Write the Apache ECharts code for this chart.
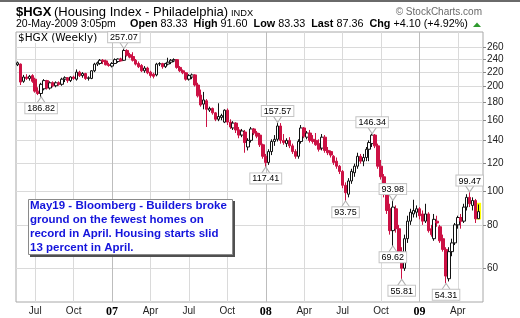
<!DOCTYPE html>
<html><head><meta charset="utf-8">
<script src="https://cdn.jsdelivr.net/npm/echarts@6/dist/echarts.min.js"></script>
<style>html,body{margin:0;padding:0;background:#fff}#c{width:520px;height:318px}</style>
</head><body><div id="c"></div>
<script>
// ---- data ----
const firstWeek = '2006-05-22';   // Monday of first weekly bar
const extraWeeks = 1;             // empty slot after last bar
const opens = [
231,232,207,213,211,215,210,194,191,197,
208,198,205,201,205,203,210,212,208,213,
210,220,215,218,211,211,222,232,233,238,
237,231,229,233,236,240,238,254,247,244,
238,233,230,222,226,220,217,216,232,233,
228,232,235,237,239,227,222,219,210,213,
216,202,189,178,182,171,173,168,161,163,
158,171,158,152,157,150,145,148,134,140,
151,147,145,136,126,121,130,139,141,154,
140,137,140,135,130,126,139,152,143,147,
141,140,137,133,143,131,130,126,122,118,
114,104,98,107,113,118,126,122,125,132,
137,145,135,118,110,98,89,77,89,78,
67,60,73,82,86,87,89,86,82,86,
78,73,82,79,73,68,56,67,71,80,
84,82,90,96,91,94,83.33];
const highs = [
236,233,216,217,216,217,212,199,205,210,
209,207,207,207,207,212,214,213,214,215,
224,222,220,219,214,223,234,236,240,240,
239,234,235,241,241,242,257.07,256,250,251,
240,236,232,229,228,222,219,234,235,234,
234,242,240,241,240,229,224,220,217,218,
217,205,196,193,184,175,174,169,179,167,
172,173,161,159,158,153,151,150,142,153,
152,149,147,137,128,132,141,145,157.57,157,
146,142,143,137,132,141,155,153,149,150,
145,147,141,146,145,134,131,127,125,119,
115,106,109,116,120,129,128,128,134,140,
146.34,146,137,123,112,99,92,93.98,91,80,
69,75,85,89,94.5,91,90,88,92,87,
80,86,85,80,75,69,69,73,81,85,
86,92,98,99.47,96,95,91.60];
const lows = [
229,202,205,209,208,205,192,189,186.82,195,
196,196,199,199,201,201,206,205,206,209,
208,213,212,209,208,210,220,229,231,232,
230,228,227,232,234,236,237,244,241,236,
230,226,220,219,217,212,211,214,229,225,
226,230,232,235,225,220,217,208,208,210,
200,186,175,172,153,169,166,159,159,160,
157,155,151,150,147,142,143,129,131,138,
145,142,134,124,117.41,119,127,135,139,137,
136,134,133,128,124,124,137,142,141,138,
137,135,130,131,129,127,125,119,116,112,
102,93.75,96,105,110,116,120,118,122,122,
134,133,116,108,96,86,75,69.62,76,65,
55.81,59,71,80,84,84,83,80,81,76,
74,72,79,71,67,54.31,55,65,70,78,
78,81,88,90,88,81,83.33];
const closes = [
234,206,213,211,214,207,194,191,203,208,
198,205,201,205,203,210,212,208,213,211,
220,215,218,211,212,222,232,234,238,236,
231,230,233,239,240,237,254,246,243,238,
232,228,222,226,219,215,214,232,233,228,
233,235,238,239,227,222,219,210,215,216,
202,188,177,183,172,173,168,161,164,165,
171,158,153,157,150,145,149,138,140,151,
147,144,136,126,121,130,139,141,154,140,
138,140,135,130,126,139,152,144,147,140,
139,136,132,143,131,129,127,121,118,114,
104,99,107,114,118,126,122,125,132,138,
145,135,118,110,98,88,77,90,78,67,
60,73,82,87,88,89,85,82,86,77,
75,83,81,72,68,57,67,71,80,84,
82,90,96,92,94,83.26,87.36];
const yTicks = [60,80,100,120,140,160,180,200,220,240,260];
const highMarkIdx = [36,88,120,127,153];
const highMarkVal = [257.07,157.57,146.34,93.98,99.47];
const lowMarkIdx = [8,84,111,127,130,145];
const lowMarkVal = [186.82,117.41,93.75,69.62,55.81,54.31];
const monthNames = ['Jan','Feb','Mar','Apr','May','Jun','Jul','Aug','Sep','Oct','Nov','Dec'];
const noteLines = ['May19 - Bloomberg - Builders broke','ground on the fewest homes on','record in April. Housing starts slid','13 percent in April.'];
const quoteLine = '{b|Open} 83.33  {b|High} 91.60  {b|Low} 83.33  {b|Last} 87.36  {b|Chg} +4.10 (+4.92%)';

// ---- categories (weekly) ----
const DAY = 86400000;
const t0 = Date.parse(firstWeek + 'T00:00:00Z');
const nCat = opens.length + extraWeeks;
const weeks = [];
for (let i = 0; i < nCat; i++) weeks.push(new Date(t0 + i * 7 * DAY).toISOString().slice(0, 10));
function friday(i) { return new Date(t0 + (i * 7 + 4) * DAY); }
const qStart = {};
for (let i = 1; i < nCat; i++) {
  const f = friday(i), p = friday(i - 1);
  if (f.getUTCMonth() !== p.getUTCMonth() && f.getUTCMonth() % 3 === 0) qStart[i] = f;
}
const isQ = (idx) => !!qStart[idx];

const chart = echarts.init(document.getElementById('c'), null, {renderer: 'canvas'});
const RED = '#cc1144';
const candleData = opens.map((o, i) => [o, closes[i], lows[i], highs[i]]);
const lastIdx = opens.length - 1;

const labelStyle = {
  show: true, formatter: (p) => Number(p.value).toFixed(2),
  fontFamily: 'Liberation Sans', fontSize: 9, color: '#000',
  backgroundColor: '#fff', borderColor: '#c4c4c4', borderWidth: 1,
  padding: [1, 2, 0, 2], distance: 0
};
const markData = [];
highMarkIdx.forEach((ix, k) => markData.push({
  coord: [weeks[ix], highMarkVal[k]], value: highMarkVal[k],
  symbol: 'path://M0,0L4,6L8,0', symbolSize: [8, 6], symbolOffset: [0, -3],
  itemStyle: {color: 'rgba(0,0,0,0)', borderColor: '#b0b0b0', borderWidth: 1},
  label: Object.assign({}, labelStyle, {position: 'top'})
}));
lowMarkIdx.forEach((ix, k) => markData.push({
  coord: [weeks[ix], lowMarkVal[k]], value: lowMarkVal[k],
  symbol: 'path://M0,6L4,0L8,6', symbolSize: [8, 6], symbolOffset: [0, 3],
  itemStyle: {color: 'rgba(0,0,0,0)', borderColor: '#b0b0b0', borderWidth: 1},
  label: Object.assign({}, labelStyle, {position: 'bottom'})
}));

const F = 'Liberation Sans';
const txt = (x, y, text, font, fill, align) => ({
  type: 'text', x: 0, y: 0, silent: true,
  style: {x: x, y: y, text: text, font: font, fill: fill || '#000',
    textAlign: align || 'left', align: align || 'left', textVerticalAlign: 'middle', verticalAlign: 'middle'}
});

const graphics = [
  {type: 'rect', shape: {x: 0, y: 0, width: 520, height: 2}, style: {fill: '#6a6a6a'}, silent: true},
  txt(16, 12.5, '$HGX', 'bold 13px ' + F),
  txt(54, 12.5, '(Housing Index - Philadelphia)', '13px ' + F),
  txt(231, 13, 'INDX', '9.3px ' + F),
  txt(482, 12.5, '\u00A9 StockCharts.com', '10px ' + F, '#6a6a6a', 'right'),
  txt(16, 24.5, '20-May-2009 3:05pm', '10.5px ' + F),
  {type: 'text', x: 0, y: 0, silent: true,
    style: {x: 130, y: 24.5, text: quoteLine, fontFamily: F, fontSize: 10.8, fill: '#000',
      align: 'left', textAlign: 'left', verticalAlign: 'middle', textVerticalAlign: 'middle',
      rich: {b: {fontFamily: F, fontSize: 10.8, fontWeight: 'bold', fill: '#000'}}}},
  {type: 'polygon', shape: {points: [[473, 27], [477, 22.5], [481, 27]]}, style: {fill: '#2e9a2e'}, silent: true},
  {type: 'rect', shape: {x: 17, y: 33, width: 88, height: 10}, style: {fill: '#fff'}, silent: true, z: 50},
  Object.assign(txt(18, 38, '$HGX (Weekly)', '10.5px DejaVu Sans'), {z: 51}),
  {type: 'rect', shape: {x: 30, y: 201, width: 205, height: 56}, style: {fill: '#505050'}, silent: true, z: 50},
  {type: 'rect', shape: {x: 28.5, y: 199.5, width: 204, height: 55}, style: {fill: '#fff', stroke: '#8a8a8a', lineWidth: 1}, silent: true, z: 51}
];
noteLines.forEach((s, k) => graphics.push(Object.assign(txt(30, 206 + k * 14, s, 'bold 11.5px ' + F, '#1414dc'), {z: 52})));

chart.setOption({
  animation: false,
  backgroundColor: '#fff',
  grid: {left: 16, top: 32, width: 467, height: 270, show: true, borderColor: '#a8a8a8', borderWidth: 1, backgroundColor: '#fff'},
  xAxis: {
    type: 'category', data: weeks, boundaryGap: true,
    axisLine: {show: false},
    axisTick: {show: false, alignWithLabel: true, interval: isQ},
    axisLabel: {
      interval: isQ, margin: 4, fontFamily: F, fontSize: 10, color: '#222',
      formatter: (v, idx) => {
        const f = qStart[idx]; if (!f) return '';
        const m = f.getUTCMonth();
        return m === 0 ? '{yr|' + String(f.getUTCFullYear()).slice(2) + '}' : monthNames[m];
      },
      rich: {yr: {fontFamily: 'Liberation Serif', fontWeight: 'bold', fontSize: 12, color: '#000'}}
    },
    splitLine: {show: true, interval: isQ, alignWithLabel: true,
      lineStyle: {color: ['#dadada', '#dadada', '#bdbdbd', '#dadada'], width: 1}}
  },
  yAxis: {
    type: 'log', logBase: 10, position: 'right', min: 48, max: 287,
    axisLine: {show: false},
    axisTick: {show: true, length: 3, customValues: yTicks, lineStyle: {color: '#888'}},
    axisLabel: {customValues: yTicks, margin: 4, fontFamily: F, fontSize: 10, color: '#222'},
    splitLine: {show: true, customValues: yTicks, lineStyle: {color: '#dadada'}}
  },
  series: [
    {
      type: 'custom', silent: true, z: 1,
      renderItem: (params, api) => {
        const a = api.coord([api.value(0), api.value(2)]);
        const b = api.coord([api.value(0), api.value(1)]);
        return {type: 'rect', shape: {x: a[0] - 2.5, y: a[1], width: 5, height: b[1] - a[1]}, style: {fill: '#ffff00'}};
      },
      data: [[lastIdx, lows[lastIdx] - 0.4, highs[lastIdx] + 1]]
    },
    {
      type: 'candlestick', z: 3, barWidth: 3,
      data: candleData,
      itemStyle: {color: '#ffffff', color0: RED, borderColor: '#111', borderColor0: RED, borderWidth: 1},
      markPoint: {data: markData, silent: true, animation: false}
    }
  ],
  graphic: graphics
});
</script></body></html>
